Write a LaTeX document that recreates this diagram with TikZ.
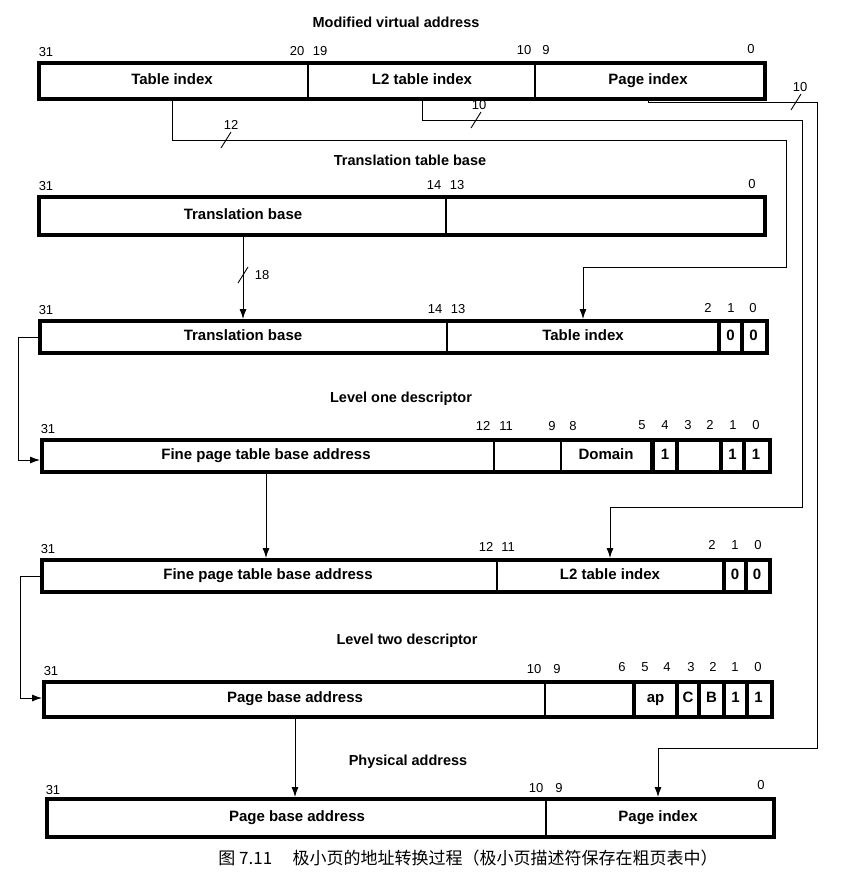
\documentclass[tikz,border=0pt]{standalone}
\usepackage{fontspec}
\setmainfont{Liberation Sans}
\newfontfamily\cjk{Noto Sans CJK SC}
\usetikzlibrary{arrows.meta}
\begin{document}
\begin{tikzpicture}[x=1pt,y=-1pt,
  regbox/.style={draw, line width=3.6pt, anchor=north west, inner sep=0pt},
  divline/.style={line width=2.6pt},
  bar/.style={line width=4.2pt},
  lbl/.style={font=\fontsize{15}{17}\selectfont\bfseries, inner sep=0pt, text height=10.8pt, text depth=0pt},
  ttl/.style={font=\fontsize{14.5}{17}\selectfont\bfseries, inner sep=0pt},
  bitn/.style={font=\fontsize{13}{15}\selectfont, inner sep=0pt, anchor=south},
  conn/.style={line width=0.9pt},
  arr/.style={conn, -{Latex[length=10pt,width=7pt]}},
  tick/.style={line width=0.9pt},
  cnt/.style={font=\fontsize{13}{15}\selectfont, inner sep=0pt}
]
\useasboundingbox (0,0) rectangle (841,878);

% ---------- Row 1: Modified virtual address
\node[ttl] (t1) at (396,22) {Modified virtual address};
\node[regbox, minimum width=726pt, minimum height=36pt] (r1) at (37,61) {};
\draw[divline] (308,61) -- (308,97);
\draw[divline] (535,61) -- (535,97);
\node[lbl] (n1a) at (172,79) {Table index};
\node[lbl] (n1b) at (422,79) {L2 table index};
\node[lbl] (n1c) at (648,79) {Page index};
\node[bitn] (b1a) at (46,57) {31};
\node[bitn] (b1b) at (297,56) {20};
\node[bitn] (b1c) at (320,56) {19};
\node[bitn] (b1d) at (524,55) {10};
\node[bitn] (b1e) at (546,55) {9};
\node[bitn] (b1f) at (751,54) {0};

% ---------- Row 2: Translation table base
\node[ttl] (t2) at (410,160) {Translation table base};
\node[regbox, minimum width=726pt, minimum height=38pt] (r2) at (37,195) {};
\draw[divline] (446,195) -- (446,233);
\node[lbl] (n2a) at (243,214) {Translation base};
\node[bitn] (b2a) at (46,191) {31};
\node[bitn] (b2b) at (434,190) {14};
\node[bitn] (b2c) at (457,190) {13};
\node[bitn] (b2d) at (752,189) {0};

% ---------- Row 3
\node[regbox, minimum width=727pt, minimum height=32pt] (r3) at (38,319) {};
\draw[divline] (447,319) -- (447,351);
\draw[bar] (719,319) -- (719,351);
\draw[bar] (742,319) -- (742,351);
\node[lbl] (n3a) at (243,335) {Translation base};
\node[lbl] (n3b) at (583,335) {Table index};
\node[lbl] (n3c) at (730.5,335) {0};
\node[lbl] (n3d) at (753.5,335) {0};
\node[bitn] (b3a) at (46,315) {31};
\node[bitn] (b3b) at (435,314) {14};
\node[bitn] (b3c) at (458,314) {13};
\node[bitn] (b3d) at (708,313) {2};
\node[bitn] (b3e) at (731,313) {1};
\node[bitn] (b3f) at (753,313) {0};

% ---------- Row 4: Level one descriptor
\node[ttl] (t4) at (401,399) {Level one descriptor};
\node[regbox, minimum width=728pt, minimum height=32pt] (r4) at (40,438) {};
\draw[divline] (494,438) -- (494,470);
\draw[divline] (561,438) -- (561,470);
\draw[bar] (652.5,438) -- (652.5,470);
\draw[bar] (677,438) -- (677,470);
\draw[bar] (721,438) -- (721,470);
\draw[bar] (744,438) -- (744,470);
\node[lbl] (n4a) at (266,454) {Fine page table base address};
\node[lbl] (n4b) at (606,454) {Domain};
\node[lbl] (n4c) at (665,454) {1};
\node[lbl] (n4d) at (732.5,454) {1};
\node[lbl] (n4e) at (756,454) {1};
\node[bitn] (b4a) at (48,434) {31};
\node[bitn] (b4b) at (483,431) {12};
\node[bitn] (b4c) at (506,431) {11};
\node[bitn] (b4d) at (552,431) {9};
\node[bitn] (b4e) at (573,431) {8};
\node[bitn] (b4f) at (642,430) {5};
\node[bitn] (b4g) at (665,430) {4};
\node[bitn] (b4h) at (688,430) {3};
\node[bitn] (b4i) at (710,430) {2};
\node[bitn] (b4j) at (733,430) {1};
\node[bitn] (b4k) at (756,430) {0};

% ---------- Row 5
\node[regbox, minimum width=728pt, minimum height=32pt] (r5) at (40,558) {};
\draw[divline] (497,558) -- (497,590);
\draw[bar] (724,558) -- (724,590);
\draw[bar] (746,558) -- (746,590);
\node[lbl] (n5a) at (268,574) {Fine page table base address};
\node[lbl] (n5b) at (610,574) {L2 table index};
\node[lbl] (n5c) at (735,574) {0};
\node[lbl] (n5d) at (757,574) {0};
\node[bitn] (b5a) at (48,554) {31};
\node[bitn] (b5b) at (486,552) {12};
\node[bitn] (b5c) at (508,552) {11};
\node[bitn] (b5d) at (712,550) {2};
\node[bitn] (b5e) at (735,550) {1};
\node[bitn] (b5f) at (758,550) {0};

% ---------- Row 6: Level two descriptor
\node[ttl] (t6) at (407,641) {Level two descriptor};
\node[regbox, minimum width=728pt, minimum height=35pt] (r6) at (42,680) {};
\draw[divline] (545,680) -- (545,715);
\draw[bar] (634,680) -- (634,715);
\draw[bar] (677,680) -- (677,715);
\draw[bar] (699,680) -- (699,715);
\draw[bar] (724,680) -- (724,715);
\draw[bar] (747,680) -- (747,715);
\node[lbl] (n6a) at (295,697) {Page base address};
\node[lbl] (n6b) at (655.5,697) {ap};
\node[lbl] (n6c) at (688,697) {C};
\node[lbl] (n6d) at (711.5,697) {B};
\node[lbl] (n6e) at (735.5,697) {1};
\node[lbl] (n6f) at (758.5,697) {1};
\node[bitn] (b6a) at (51,676) {31};
\node[bitn] (b6b) at (534,674) {10};
\node[bitn] (b6c) at (557,674) {9};
\node[bitn] (b6d) at (622,672) {6};
\node[bitn] (b6e) at (645,672) {5};
\node[bitn] (b6f) at (667,672) {4};
\node[bitn] (b6g) at (691,672) {3};
\node[bitn] (b6h) at (713,672) {2};
\node[bitn] (b6i) at (735,672) {1};
\node[bitn] (b6j) at (758,672) {0};

% ---------- Row 7: Physical address
\node[ttl] (t7) at (408,762) {Physical address};
\node[regbox, minimum width=727pt, minimum height=38pt] (r7) at (45,797) {};
\draw[divline] (546,797) -- (546,835);
\node[lbl] (n7a) at (297,816) {Page base address};
\node[lbl] (n7b) at (658,816) {Page index};
\node[bitn] (b7a) at (53,795) {31};
\node[bitn] (b7b) at (536,793) {10};
\node[bitn] (b7c) at (559,793) {9};
\node[bitn] (b7d) at (761,790) {0};

% ---------- Connectors
\coordinate (k1) at (786,140);
\coordinate (k2) at (786,267);
\draw[arr] (n1a |- r1.south) |- (k1) -- (k2) -| (n3b |- r3.north);

\coordinate (k3) at (802,120);
\coordinate (k4) at (802,507);
\draw[arr] (n1b |- r1.south) |- (k3) -- (k4) -| (n5b |- r5.north);

\coordinate (k5) at (817,102);
\coordinate (k6) at (817,748);
\draw[arr] (n1c |- r1.south) |- (k5) -- (k6) -| (n7b |- r7.north);

\draw[arr] (n2a |- r2.south) -- (n2a |- r3.north);
\draw[arr] (n4a |- r4.south) -- (n4a |- r5.north);
\draw[arr] (n6a |- r6.south) -- (n6a |- r7.north);

\coordinate (k7) at (18,337);
\coordinate (k8) at (18,460);
\draw[arr] (r3.west |- k7) -- (k7) -- (k8) -- (r4.west |- k8);

\coordinate (k9) at (20,576);
\coordinate (k10) at (20,698);
\draw[arr] (r5.west |- k9) -- (k9) -- (k10) -- (r6.west |- k10);

% ---------- Bus-width ticks
\coordinate (s1) at (226,140);
\draw[tick] ([shift={(-5,8)}]s1) -- ([shift={(5,-8)}]s1);
\node[cnt] (w1) at (231,125) {12};
\coordinate (s2) at (476,120);
\draw[tick] ([shift={(-5,8)}]s2) -- ([shift={(5,-8)}]s2);
\node[cnt] (w2) at (479,105) {10};
\coordinate (s3) at (796,102);
\draw[tick] ([shift={(-5,8)}]s3) -- ([shift={(5,-8)}]s3);
\node[cnt] (w3) at (800,87) {10};
\coordinate (s4) at (243,275);
\draw[tick] ([shift={(-5,8)}]s4) -- ([shift={(5,-8)}]s4);
\node[cnt] (w4) at (262,275) {18};

% ---------- Caption
\node[font=\cjk\fontsize{17}{19}\selectfont, inner sep=0pt] (cap) at (468,858)
  {图 7.11\hspace{1.2em}极小页的地址转换过程（极小页描述符保存在粗页表中）};
\end{tikzpicture}
\end{document}
